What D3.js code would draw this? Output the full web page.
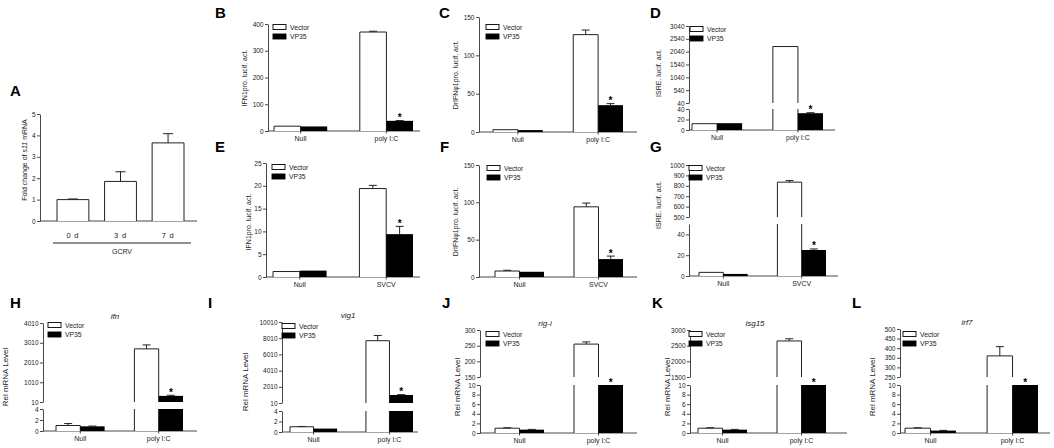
<!DOCTYPE html>
<html>
<head>
<meta charset="utf-8">
<script src="https://cdn.jsdelivr.net/npm/d3@7"></script>
<style>
  body { margin: 0; background: #fff; }
  svg { display: block; font-family: "Liberation Sans", Arial, sans-serif; }
</style>
</head>
<body>
<svg width="1054" height="448"></svg>
<script>
// ---- data ----
const series = ['Vector', 'VP35']
const catsPoly = ['Null', 'poly I:C']
const catsSvcv = ['Null', 'SVCV']

// A: s11 mRNA after GCRV
const daysA = ['0 d', '3 d', '7 d']
const foldA = [1.0, 1.85, 3.65]
const foldErrA = [0.03, 0.45, 0.43]
const ticksA = [0, 1, 2, 3, 4, 5]

// B: IFN1pro, poly I:C
const vecB = [18, 370], vpB = [17, 38]
const vecErrB = [0, 3], vpErrB = [0, 1]
const ticksB = [0, 100, 200, 300, 400]

// C: DrIFNphi1pro, poly I:C
const vecC = [3, 127], vpC = [2.5, 35]
const vecErrC = [0, 6], vpErrC = [0, 2]
const ticksC = [0, 50, 100, 150]

// D: ISRE, poly I:C (broken axis)
const vecD = [12, 2240], vpD = [13, 32]
const vecErrD = [0, 0], vpErrD = [0, 1]
const ticksDlow = [0, 20, 40]
const ticksDhigh = [40, 540, 1040, 1540, 2040, 2540, 3040]

// E: IFN1pro, SVCV
const vecE = [1.2, 19.4], vpE = [1.4, 9.4]
const vecErrE = [0, 0.7], vpErrE = [0, 1.7]
const ticksE = [0, 5, 10, 15, 20, 25]

// F: DrIFNphi1pro, SVCV
const vecF = [8, 94], vpF = [7, 24]
const vecErrF = [1, 5], vpErrF = [0, 4]
const ticksF = [0, 50, 100, 150]

// G: ISRE, SVCV (broken axis)
const vecG = [3.5, 835], vpG = [2, 25]
const vecErrG = [0, 15], vpErrG = [0, 1]
const ticksGlow = [0, 20, 40]
const ticksGhigh = [500, 600, 700, 800, 900, 1000]

// H: ifn
const vecH = [1.0, 2700], vpH = [0.85, 320]
const vecErrH = [0.35, 200], vpErrH = [0.05, 30]
const ticksHlow = [0, 2, 4]
const ticksHhigh = [10, 1010, 2010, 3010, 4010]

// I: vig1
const vecI = [1.0, 7700], vpI = [0.65, 1000]
const vecErrI = [0.05, 650], vpErrI = [0, 40]
const ticksIlow = [0, 2, 4]
const ticksIhigh = [10, 2010, 4010, 6010, 8010, 10010]

// J: rig-i
const vecJ = [1.0, 255], vpJ = [0.7, 10]
const vecErrJ = [0.1, 7], vpErrJ = [0.05, 0]
const ticksLow10 = [0, 2, 4, 6, 8, 10]
const ticksJhigh = [150, 200, 250, 300]

// K: isg15
const vecK = [1.0, 2650], vpK = [0.7, 10]
const vecErrK = [0.1, 70], vpErrK = [0.05, 0]
const ticksKhigh = [1500, 2000, 2500, 3000]

// L: irf7
const vecL = [1.0, 360], vpL = [0.5, 10]
const vecErrL = [0.1, 48], vpErrL = [0.05, 0]
const ticksLhigh = [250, 300, 350, 400, 450, 500]

const svg = d3.select('svg')

// panel table: data arrays + where each panel sits on the page
const panels = [
  {cats: catsPoly, vec: vecB, vp: vpB, vecErr: vecErrB, vpErr: vpErrB, ax: 268, axEnd: 420, bars: [274, 413],
   segs: [{dom: [0, 400], rng: [131, 24], ticks: ticksB}], ylab: 'IFN1pro. lucif. act.', ylx: 247, yly: 78, leg: [273, 27]},
  {cats: catsPoly, vec: vecC, vp: vpC, vecErr: vecErrC, vpErr: vpErrC, ax: 479, axEnd: 637, bars: [493, 623],
   segs: [{dom: [0, 150], rng: [132, 17], ticks: ticksC}], ylab: 'DrIFNφ1pro. lucif. act.', ylx: 458, yly: 75, leg: [486, 27]},
  {cats: catsPoly, vec: vecD, vp: vpD, vecErr: vecErrD, vpErr: vpErrD, ax: 689, axEnd: 835, bars: [692, 823],
   segs: [{dom: [0, 40], rng: [130, 109], ticks: ticksDlow}, {dom: [40, 3040], rng: [103, 26], ticks: ticksDhigh}],
   ylab: 'ISRE. lucif. act.', ylx: 661, yly: 73, leg: [690, 29]},
  {cats: catsSvcv, vec: vecE, vp: vpE, vecErr: vecErrE, vpErr: vpErrE, ax: 266, axEnd: 420, bars: [273, 413],
   segs: [{dom: [0, 25], rng: [277, 163], ticks: ticksE}], ylab: 'IFN1pro. lucif. act.', ylx: 251, yly: 222, leg: [272, 167]},
  {cats: catsSvcv, vec: vecF, vp: vpF, vecErr: vecErrF, vpErr: vpErrF, ax: 479, axEnd: 637, bars: [495, 623],
   segs: [{dom: [0, 150], rng: [277, 165], ticks: ticksF}], ylab: 'DrIFNφ1pro. lucif. act.', ylx: 458, yly: 222, leg: [487, 168]},
  {cats: catsSvcv, vec: vecG, vp: vpG, vecErr: vecErrG, vpErr: vpErrG, ax: 689, axEnd: 838, bars: [699, 826],
   segs: [{dom: [0, 50], rng: [276, 224], ticks: ticksGlow}, {dom: [500, 1000], rng: [217, 165], ticks: ticksGhigh}],
   ylab: 'ISRE. lucif. act.', ylx: 661, yly: 205, leg: [689, 168]},
  {cats: catsPoly, vec: vecH, vp: vpH, vecErr: vecErrH, vpErr: vpErrH, ax: 43, axEnd: 197, bars: [56, 183],
   segs: [{dom: [0, 4], rng: [431, 409], ticks: ticksHlow}, {dom: [10, 4010], rng: [402, 323], ticks: ticksHhigh}],
   ylab: 'Rel mRNA Level', ylx: 8, yly: 377, leg: [48, 325], title: 'ifn', tx: 115},
  {cats: catsPoly, vec: vecI, vp: vpI, vecErr: vecErrI, vpErr: vpErrI, ax: 282, axEnd: 418, bars: [290, 413],
   segs: [{dom: [0, 4], rng: [432, 411], ticks: ticksIlow}, {dom: [10, 10010], rng: [403, 322], ticks: ticksIhigh}],
   ylab: 'Rel mRNA Level', ylx: 248, yly: 382, leg: [282, 326], title: 'vig1', tx: 348},
  {cats: catsPoly, vec: vecJ, vp: vpJ, vecErr: vecErrJ, vpErr: vpErrJ, ax: 480, axEnd: 637, bars: [495, 623],
   segs: [{dom: [0, 10], rng: [433, 385], ticks: ticksLow10}, {dom: [150, 300], rng: [377, 330], ticks: ticksJhigh}],
   ylab: 'Rel mRNA Level', ylx: 460, yly: 387, leg: [486, 334], title: 'rig-i', tx: 545},
  {cats: catsPoly, vec: vecK, vp: vpK, vecErr: vecErrK, vpErr: vpErrK, ax: 690, axEnd: 847, bars: [698, 826],
   segs: [{dom: [0, 10], rng: [433, 385], ticks: ticksLow10}, {dom: [1500, 3000], rng: [377, 330], ticks: ticksKhigh}],
   ylab: 'Rel mRNA Level', ylx: 670, yly: 387, leg: [689, 334], title: 'isg15', tx: 755},
  {cats: catsPoly, vec: vecL, vp: vpL, vecErr: vecErrL, vpErr: vpErrL, ax: 900, axEnd: 1050, bars: [905, 1038],
   segs: [{dom: [0, 10], rng: [433, 385], ticks: ticksLow10}, {dom: [250, 500], rng: [377, 329], ticks: ticksLhigh}],
   ylab: 'Rel mRNA Level', ylx: 875, yly: 387, leg: [903, 334], title: 'irf7', tx: 967}
]

const letters = [
  ['A', 10, 96], ['B', 215, 18], ['C', 439, 18], ['D', 650, 18],
  ['E', 215, 152], ['F', 440, 152], ['G', 650, 152],
  ['H', 10, 308], ['I', 208, 308], ['J', 442, 308], ['K', 652, 308], ['L', 852, 308]
]

function yAxis(g, ax, y, ticks) {
  g.append('g')
    .attr('transform', `translate(${ax},0)`)
    .call(d3.axisLeft(y).tickValues(ticks).tickSize(3).tickSizeOuter(0).tickPadding(1.5).tickFormat(d3.format('d')))
    .call(a => a.selectAll('text').attr('font-size', 6.5).attr('font-family', null).attr('fill', '#222'))
    .call(a => a.selectAll('path,line').attr('stroke', '#333').attr('stroke-width', 0.9))
}

function drawPanel(p) {
  const g = svg.append('g')
  const segs = p.segs.map(s => ({...s, y: d3.scaleLinear(s.dom, s.rng)}))
  const x0 = d3.scaleBand(p.cats, p.bars).paddingInner(0.38)
  const x1 = d3.scaleBand(series, [0, x0.bandwidth()])
  const y0 = segs[0].y(0)

  segs.forEach(s => yAxis(g, p.ax, s.y, s.ticks))

  // x axis line with small ticks
  g.append('line').attr('x1', p.ax).attr('x2', p.axEnd).attr('y1', y0).attr('y2', y0)
    .attr('stroke', '#333').attr('stroke-width', 0.9)
  p.cats.forEach(c => {
    const cx = x0(c) + x0.bandwidth() / 2
    g.append('line').attr('x1', cx).attr('x2', cx).attr('y1', y0).attr('y2', y0 + 2.5)
      .attr('stroke', '#333').attr('stroke-width', 0.9)
    g.append('text').attr('x', cx).attr('y', y0 + 9.5).attr('text-anchor', 'middle')
      .attr('font-size', 7).attr('fill', '#222').text(c)
  })

  p.cats.forEach((c, i) => {
    series.forEach((sName, j) => {
      const v = j === 0 ? p.vec[i] : p.vp[i]
      const e = j === 0 ? p.vecErr[i] : p.vpErr[i]
      const bx = x0(c) + x1(sName)
      const bw = x1.bandwidth()
      segs.forEach((s, k) => {
        const lo = s.dom[0], hi = s.dom[1]
        if (k > 0 && v <= lo) return
        const yb = s.y(k === 0 ? 0 : lo)
        const yt = s.y(Math.min(v, hi))
        if (j === 1) {
          g.append('rect').attr('x', bx).attr('y', yt).attr('width', bw).attr('height', yb - yt).attr('fill', '#000')
        } else {
          g.append('rect').attr('x', bx).attr('y', yt).attr('width', bw).attr('height', yb - yt).attr('fill', '#fff')
          const d = v <= hi
            ? `M${bx},${yb}V${yt}H${bx + bw}V${yb}`
            : `M${bx},${yb}V${yt}M${bx + bw},${yb}V${yt}`
          g.append('path').attr('d', d).attr('fill', 'none').attr('stroke', '#222').attr('stroke-width', 1)
        }
        // error bar in the segment where the bar ends
        if (v >= (k === 0 ? 0 : lo) && v <= hi && e > 0) {
          const cx = bx + bw / 2, ye = s.y(v + e)
          g.append('path').attr('d', `M${cx},${yt}V${ye}M${cx - 4},${ye}H${cx + 4}`)
            .attr('stroke', '#222').attr('stroke-width', 1).attr('fill', 'none')
        }
        // significance star over the treated VP35 bar
        if (j === 1 && i === 1 && v >= (k === 0 ? 0 : lo) && v <= hi) {
          g.append('text').attr('x', bx + bw / 2).attr('y', s.y(v + e) + 0.5)
            .attr('text-anchor', 'middle').attr('font-size', 10).attr('font-weight', 'bold').text('*')
        }
      })
    })
  })

  // legend
  series.forEach((sName, j) => {
    const ly = p.leg[1] + j * 9.5
    g.append('rect').attr('x', p.leg[0]).attr('y', ly - 2.5).attr('width', 13).attr('height', 5)
      .attr('fill', j ? '#000' : '#fff').attr('stroke', '#000').attr('stroke-width', 0.9)
    g.append('text').attr('x', p.leg[0] + 17).attr('y', ly + 2.5).attr('font-size', 6.8).attr('fill', '#222').text(sName)
  })

  // y label
  const big = p.ylab === 'Rel mRNA Level'
  g.append('text').attr('transform', `translate(${p.ylx},${p.yly}) rotate(-90)`)
    .attr('text-anchor', 'middle').attr('font-size', big ? 8 : 7).attr('fill', '#222').text(p.ylab)

  if (p.title) {
    g.append('text').attr('x', p.tx).attr('y', segs[1].rng[1] - 4).attr('text-anchor', 'middle')
      .attr('font-size', 8).attr('font-style', 'italic').attr('fill', '#222').text(p.title)
  }
}

function drawA() {
  const g = svg.append('g')
  const ax = 40, axEnd = 197
  const y = d3.scaleLinear([0, 5], [221, 114])
  const x = d3.scaleBand(daysA, [57, 184]).paddingInner(0.33)
  yAxis(g, ax, y, ticksA)
  g.append('line').attr('x1', ax).attr('x2', axEnd).attr('y1', y(0)).attr('y2', y(0))
    .attr('stroke', '#333').attr('stroke-width', 0.9)
  daysA.forEach((d, i) => {
    const bx = x(d), bw = x.bandwidth(), cx = bx + bw / 2
    g.append('path').attr('d', `M${bx},${y(0)}V${y(foldA[i])}H${bx + bw}V${y(0)}`)
      .attr('fill', '#fff').attr('stroke', '#222').attr('stroke-width', 1)
    const ye = y(foldA[i] + foldErrA[i])
    g.append('path').attr('d', `M${cx},${y(foldA[i])}V${ye}M${cx - 5},${ye}H${cx + 5}`)
      .attr('stroke', '#222').attr('stroke-width', 1).attr('fill', 'none')
    g.append('text').attr('x', cx).attr('y', 238).attr('text-anchor', 'middle')
      .attr('font-size', 7.5).attr('letter-spacing', 0.8).attr('fill', '#222').text(d)
  })
  g.append('line').attr('x1', 53).attr('x2', 191).attr('y1', 243).attr('y2', 243)
    .attr('stroke', '#222').attr('stroke-width', 1)
  g.append('text').attr('x', 122).attr('y', 254).attr('text-anchor', 'middle')
    .attr('font-size', 7).attr('fill', '#222').text('GCRV')
  const lab = g.append('text').attr('transform', 'translate(27,160) rotate(-90)')
    .attr('text-anchor', 'middle').attr('font-size', 7).attr('fill', '#222')
  lab.append('tspan').text('Fold change of ')
  lab.append('tspan').attr('font-style', 'italic').text('s11')
  lab.append('tspan').text(' mRNA')
}

drawA()
panels.forEach(drawPanel)

svg.selectAll('.letter').data(letters).enter().append('text')
  .attr('x', d => d[1]).attr('y', d => d[2])
  .attr('font-size', 15).attr('font-weight', 'bold').text(d => d[0])
</script>
</body>
</html>
